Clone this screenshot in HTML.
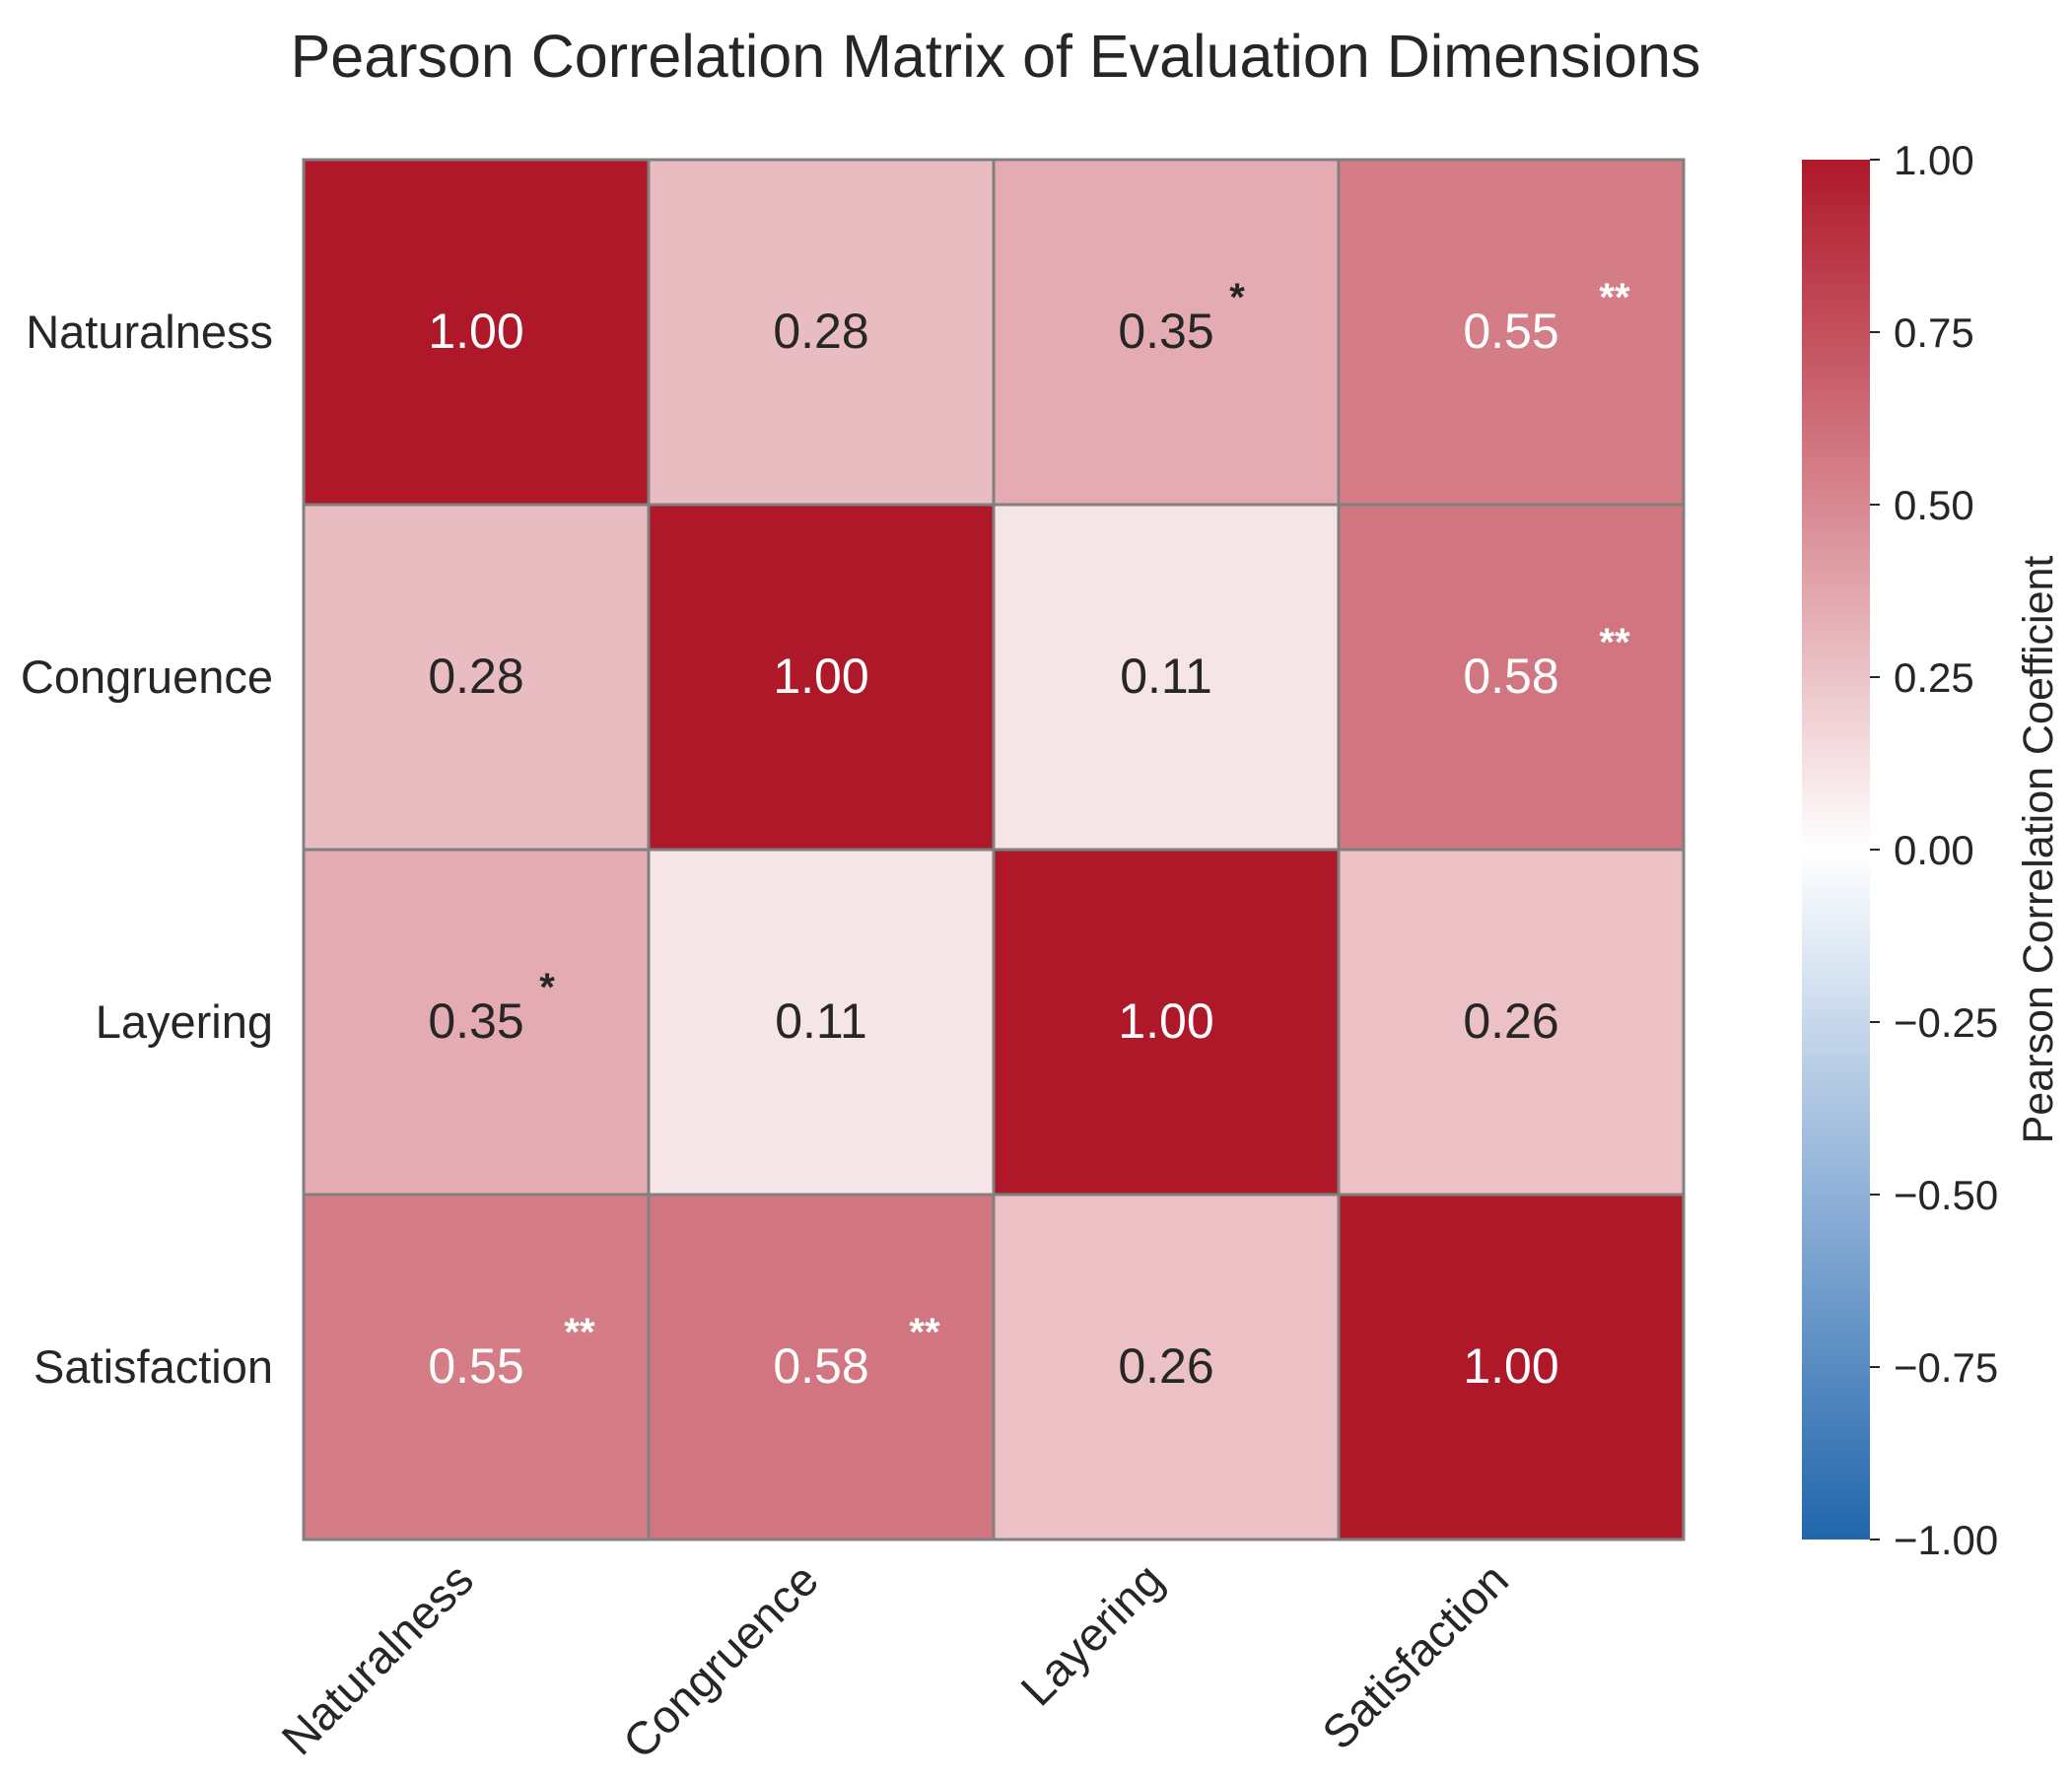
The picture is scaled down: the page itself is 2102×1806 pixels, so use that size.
<!DOCTYPE html>
<html><head><meta charset="utf-8"><style>
html,body{margin:0;padding:0;background:#fff;}
svg{display:block;font-family:"Liberation Sans",Arial,sans-serif;}
</style></head><body>
<svg id="chart" width="2102" height="1806" viewBox="0 0 2102 1806">
<text x="1010" y="78" text-anchor="middle" font-size="61" fill="#262626">Pearson Correlation Matrix of Evaluation Dimensions</text>
<g id="cells"></g>
<g id="labels"></g>
<defs><linearGradient id="cbgrad" x1="0" y1="1" x2="0" y2="0">
<stop offset="0" stop-color="#2166ac"/><stop offset="0.25" stop-color="#8fb1d8"/><stop offset="0.5" stop-color="#ffffff"/><stop offset="0.75" stop-color="#d88891"/><stop offset="1" stop-color="#af1829"/>
</linearGradient></defs>
<rect x="1828" y="162" width="69" height="1400" fill="url(#cbgrad)"/>
<g id="cbticks"></g>
<text transform="translate(2082,862) rotate(-90)" text-anchor="middle" font-size="43" fill="#262626">Pearson Correlation Coefficient</text>
</svg>
<script>
const categories = ["Naturalness","Congruence","Layering","Satisfaction"];
const rowNaturalness = [1.00,0.28,0.35,0.55];
const rowCongruence = [0.28,1.00,0.11,0.58];
const rowLayering = [0.35,0.11,1.00,0.26];
const rowSatisfaction = [0.55,0.58,0.26,1.00];
const sigNaturalness = ["","","*","**"];
const sigCongruence = ["","","","**"];
const sigLayering = ["*","","",""];
const sigSatisfaction = ["**","**","",""];
const cbTicks = [1.00,0.75,0.50,0.25,0.00,-0.25,-0.50,-0.75,-1.00];
const values=[rowNaturalness,rowCongruence,rowLayering,rowSatisfaction];
const sigs=[sigNaturalness,sigCongruence,sigLayering,sigSatisfaction];
const NS="http://www.w3.org/2000/svg";
const X0=308,Y0=162,W=1400,H=1400;
const n=categories.length, cw=W/n, ch=H/n;
const xPos=i=>X0+i*cw, yPos=j=>Y0+j*ch;
const cbY=v=>Y0+(1-v)/2*H;
function lerp(a,b,t){return a.map((x,i)=>Math.round(x+(b[i]-x)*t));}
function color(v){
  const stops=[[-1,[33,102,172]],[-0.5,[143,177,216]],[0,[255,255,255]],[0.5,[216,136,145]],[1,[175,24,41]]];
  for(let k=0;k<stops.length-1;k++){const[a,ca]=stops[k],[b,cb]=stops[k+1];
    if(v<=b){const c=lerp(ca,cb,(v-a)/(b-a));return `rgb(${c})`;}}
  return "rgb(175,24,41)";
}
function mk(tag,attrs,parent){const e=document.createElementNS(NS,tag);for(const k in attrs)e.setAttribute(k,attrs[k]);parent.appendChild(e);return e;}
const cells=document.getElementById('cells');
values.forEach((row,j)=>row.forEach((v,i)=>{
  const r=mk('rect',{x:xPos(i),y:yPos(j),width:cw,height:ch,fill:color(v),stroke:'#808080','stroke-width':3},cells);
  
  
  const tc=v>0.5?'#ffffff':'#262626';
  const t=mk('text',{x:xPos(i)+cw/2,y:yPos(j)+ch/2+16,'text-anchor':'middle','font-size':50,fill:tc},cells);
  t.textContent=v.toFixed(2);
  
  
  const s=sigs[j][i];
  if(s){
    const st=mk('text',{x:xPos(i)+cw/2+(s.length>1?105:72),y:yPos(j)+ch/2-22,'text-anchor':'middle','font-size':40,'font-weight':'bold',fill:tc},cells);
    st.textContent=s;
    
    
  }
}));
const labels=document.getElementById('labels');
categories.forEach((c,i)=>{
  const y=mk('text',{x:277,y:yPos(i)+ch/2+16,'text-anchor':'end','font-size':47,fill:'#262626'},labels);
  y.textContent=c;
  
  
  const cx=xPos(i)+cw/2, cy=Y0+H+44;
  const x=mk('text',{transform:`translate(${cx},${cy}) rotate(-45)`,'text-anchor':'end','font-size':47,fill:'#262626'},labels);
  x.textContent=c;
  
  
});
const cbt=document.getElementById('cbticks');
cbTicks.forEach(v=>{
  const y=cbY(v);
  const l=mk('line',{x1:1897,x2:1907,y1:y,y2:y,stroke:'#262626','stroke-width':2},cbt);
  
  
  const t=mk('text',{x:1921,y:y+15,'font-size':42,fill:'#262626'},cbt);
  t.textContent=(v<0?'\u2212':'')+Math.abs(v).toFixed(2);
  
  
});
</script>
</body></html>
